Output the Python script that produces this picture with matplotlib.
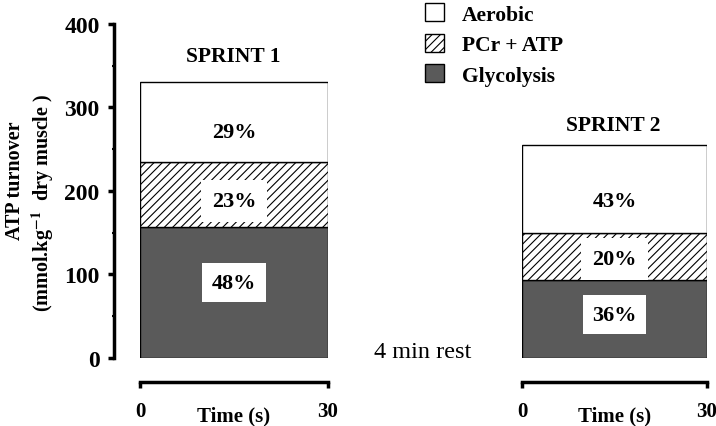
import matplotlib.pyplot as plt

plt.rcParams['font.family'] = ['Liberation Serif', 'DejaVu Serif']
plt.rcParams['font.weight'] = 'bold'
plt.rcParams['mathtext.fontset'] = 'stix'
plt.rcParams['hatch.linewidth'] = 0.8

# ATP turnover per energy system (mmol/kg dry muscle), stacked bottom to top
systems = ["Glycolysis", "PCr + ATP", "Aerobic"]
sprint1 = [157, 78, 96]
sprint2 = [93, 57, 105]
pct1 = ["48%", "23%", "29%"]
pct2 = ["36%", "20%", "43%"]
# where the percentage labels sit on the y scale
lab_y1 = [90, 188, 271]
lab_y2 = [52, 119, 188]
t_start = 0
t_dur = 30
y_ticks = [0, 100, 200, 300, 400]

face = ["#5a5a5a", "white", "white"]
hatch = [None, "////", None]
box_pad = [0.42, 0.5, None]

fig = plt.figure(figsize=(7.16, 4.27), dpi=100)

ax1 = fig.add_axes([0.1955, 0.1593, 0.2626, 0.7822])
ax2 = fig.add_axes([0.729, 0.1593, 0.2584, 0.7822])


def draw_sprint(ax, vals, pcts, laby, title, tx, ty):
    bottom = 0
    for v, fc, h, p, ly, pad in zip(vals, face, hatch, pcts, laby, box_pad):
        ax.bar(t_start, v, width=t_dur, bottom=bottom, align='edge',
               color=fc, edgecolor='black', linewidth=1.0, hatch=h)
        kw = {}
        if pad is not None:
            kw['bbox'] = dict(boxstyle='square,pad=%s' % pad, fc='white', ec='none')
        ax.text(t_start + t_dur / 2, ly, p, ha='center', va='center',
                fontsize=16, fontweight='bold', **kw)
        bottom += v
    ax.set_xlim(t_start, t_start + t_dur)
    ax.set_ylim(0, 400)
    ax.set_xticks([t_start, t_start + t_dur])
    ax.set_xticklabels([str(t_start), str(t_start + t_dur)], fontweight='bold')
    ax.tick_params(axis='x', direction='out', length=4, width=2.5, pad=10,
                   labelsize=15)
    ax.set_xlabel("Time (s)", fontsize=15, fontweight='bold', va='top')
    ax.xaxis.set_label_coords(0.5, -0.142)
    ax.spines['bottom'].set_position(('outward', 17))
    ax.spines['bottom'].set_linewidth(2.5)
    ax.spines['top'].set_visible(False)
    ax.spines['right'].set_visible(False)
    fig.text(tx, ty, title, ha='center', va='center',
             fontsize=15.5, fontweight='bold')


draw_sprint(ax1, sprint1, pct1, lab_y1, "SPRINT 1", 233 / 716, 1 - 57 / 427)
draw_sprint(ax2, sprint2, pct2, lab_y2, "SPRINT 2", 613 / 716, 1 - 126 / 427)

ax1.spines['left'].set_position(('outward', 18.5))
ax1.spines['left'].set_linewidth(2.5)
ax1.set_yticks(y_ticks)
ax1.set_yticks([50, 150, 250, 350], minor=True)
ax1.tick_params(axis='y', which='major', direction='out', length=4.5, width=2.5,
                labelsize=17, pad=6)
ax1.tick_params(axis='y', which='minor', direction='out', length=1.2, width=1.5)

# y label, two lines placed separately as in the original
ax1.text(-0.665, 0.535, "ATP turnover", transform=ax1.transAxes, rotation=90,
         ha='center', va='center', fontsize=14.5, fontweight='bold')
ax1.text(-0.517, 0.467, "(mmol.kg$^{\\mathbf{-1}}$  dry muscle )",
         transform=ax1.transAxes, rotation=90, ha='center', va='center',
         fontsize=14.5, fontweight='bold')

ax2.spines['left'].set_visible(False)
ax2.set_yticks([])

fig.text(423 / 716, 1 - 353 / 427, "4 min rest", ha='center', va='center',
         fontsize=17.5, fontweight='normal')

# legend
handles = [plt.Rectangle((0, 0), 1, 1, fc=face[i], ec='black', lw=1.0,
                         hatch=hatch[i]) for i in [2, 1, 0]]
fig.legend(handles, [systems[i] for i in [2, 1, 0]], loc='upper left',
           bbox_to_anchor=(406 / 716, 1.035), frameon=False,
           prop={'weight': 'bold', 'size': 15.5}, handlelength=0.85,
           handleheight=0.9, handletextpad=0.85, labelspacing=0.42)

fig.savefig("out.png", dpi=100)
